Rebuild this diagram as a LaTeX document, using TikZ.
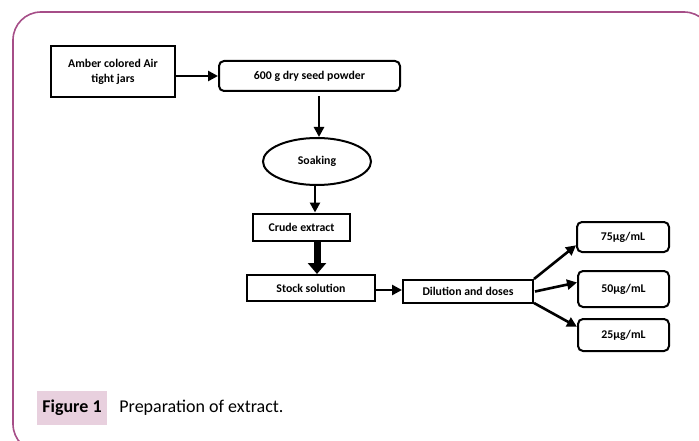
\documentclass[tikz,border=0pt]{standalone}
\usepackage{fontspec}
\setmainfont{Carlito}
\usetikzlibrary{positioning,arrows.meta,shapes.geometric}

\definecolor{framepurple}{RGB}{166,78,136}
\definecolor{captionpink}{RGB}{232,208,222}

\begin{document}
\begin{tikzpicture}[x=1pt,y=-1pt,
  box/.style={draw, line width=2pt, align=center, inner sep=1pt,
    font=\fontsize{11.8}{15}\selectfont\bfseries},
  rbox/.style={box, rounded corners=5pt},
  arr/.style={line width=2.6pt, -{Triangle[length=10pt,width=10pt]}},
  fatarr/.style={line width=7pt, -{Triangle[length=11pt,width=18pt]}}]

\clip (0,0) rectangle (699,441);

% ======================================
% THE FRAME
% ======================================
\draw[framepurple, line width=1.6pt, rounded corners=28pt] (13,12) rectangle (712,452);

% ======================================
% BLOCK 1: JARS, POWDER AND SOAKING
% ======================================
\node[box, minimum width=124pt, minimum height=51pt] (jars) at (113,71.5) {Amber colored Air\\tight jars};
\node[rbox, minimum width=181pt, minimum height=30pt] (powder) at (309.5,76) {600 g dry seed powder};
\draw [arr] (jars.east |- powder) -- (powder.west);

\node[box, ellipse, minimum width=108pt, minimum height=47pt] (soak) at (317,161.5) {Soaking};
\draw [arr, shorten <=4pt] ([xshift=2pt]soak.north |- powder.south) -- ([xshift=2pt]soak.north);

% ======================================
% BLOCK 2: CRUDE EXTRACT AND STOCK
% ======================================
\node[box, minimum width=97pt, minimum height=27pt] (crude) at (301.5,227) {Crude extract};
\draw [arr] ([xshift=-2pt]soak.south) -- ([xshift=-2pt]soak.south |- crude.north);

\node[box, minimum width=128pt, minimum height=26pt] (stock) at (311,288) {Stock solution};
\draw [fatarr] ([xshift=15.5pt]crude.south) -- ([xshift=15.5pt]crude.south |- stock.north);

% ======================================
% BLOCK 3: DILUTION AND DOSES
% ======================================
\node[box, minimum width=130pt, minimum height=23pt] (dil) at (468,291.5) {Dilution and doses};
\draw [arr] ([yshift=-2pt]stock.east) -- ([yshift=-2pt]stock.east -| dil.west);

\node[rbox, minimum width=92pt, minimum height=30pt] (d75) at (623,237) {75µg/mL};
\node[rbox, minimum width=91pt, minimum height=36pt] (d50) at (623.5,289) {50µg/mL};
\node[rbox, minimum width=91pt, minimum height=32pt] (d25) at (623.5,335) {25µg/mL};
\draw [arr] (dil.north east) -- (d75.190);
\draw [arr] ([xshift=1pt]dil.east) -- (d50.172);
\draw [arr] ([yshift=1pt]dil.south east) -- (d25.170);

% ======================================
% CAPTION
% ======================================
\node[fill=captionpink, minimum width=70pt, minimum height=34pt, inner sep=0pt,
  font=\fontsize{18}{21}\selectfont\bfseries] (fig) at (72,408) {Figure 1};
\node[right=12pt of fig, inner sep=0pt, font=\fontsize{18}{21}\selectfont] (cap) {Preparation of extract.};

\end{tikzpicture}
\end{document}
